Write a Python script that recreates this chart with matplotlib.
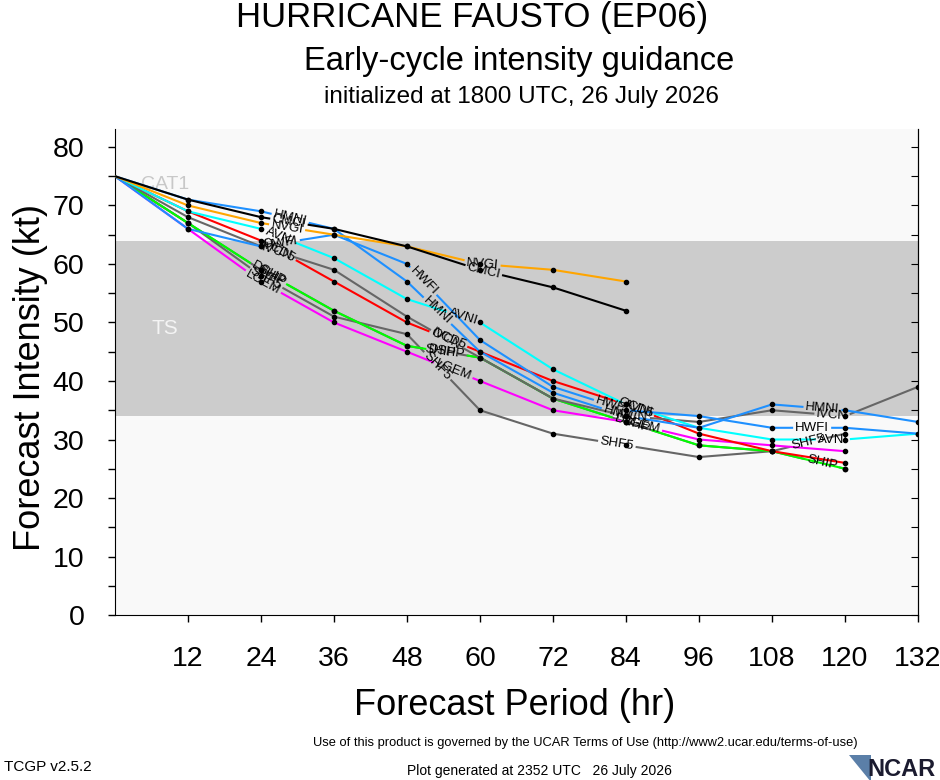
import numpy as np
import matplotlib
matplotlib.use("Agg")
import matplotlib.pyplot as plt
from matplotlib.patches import Polygon

plt.rcParams['font.family'] = ['Liberation Sans', 'DejaVu Sans']

# forecast hours (every 12 h)
hours = [0, 12, 24, 36, 48, 60, 72, 84, 96, 108, 120, 132]

# intensities (kt)
cmci = [75, 71, 68, 66, 63, 59, 56, 52]
nvgi = [75, 70, 67, 65, 63, 60, 59, 57]
hmni = [75, 71, 69, 66, 57, 45, 38, 34, 32, 36, 35, 33]
hwfi = [75, 66, 63, 65, 60, 47, 39, 35, 34, 32, 32, 31]
avni = [75, 69, 66, 61, 54, 50, 42, 36, 32, 30, 30, 31]
ivcn = [75, 68, 63, 59, 51, 44, 37, 34, 33, 35, 34, 39]
ocd5 = [75, 69, 64, 57, 50, 45, 40, 36, 31, 28, 26]
dshp = [75, 67, 59, 52, 46, 44, 37, 33, 29, 28, 25]
ship = [75, 67, 59, 52, 46, 44, 37, 33, 29, 28, 25]
lgem = [75, 66, 57, 50, 45, 40, 35, 33, 30, 29, 28]
shf5 = [75, 67, 58, 51, 48, 35, 31, 29, 27, 28, 31]

# where the in-line model labels sit (forecast hour of label centre)
lab_cmci = [28.6, 60.6]
lab_nvgi = [28.3, 60.4]
lab_hmni = [28.8, 53.0, 83.0, 116.3]
lab_hwfi = [27.3, 50.7, 81.7, 114.6]
lab_avni = [27.1, 57.2, 86.0, 118.0]
lab_ivcn = [26.6, 54.5, 85.0, 117.9]
lab_ocd5 = [26.8, 54.8, 85.5]
lab_dshp = [25.2, 54.5, 85.0]
lab_ship = [25.8, 53.5, 116.2]
lab_lgem = [24.3, 55.6, 86.6]
lab_shf5 = [24.8, 53.0, 82.5, 114.0]

gray = '#666666'

fig = plt.figure(figsize=(9.4, 7.8), dpi=100)
ax = fig.add_axes([0.1223, 0.2115, 0.8543, 0.6226])
ax.set_xlim(0, 132)
ax.set_ylim(0, 83)
ax.set_facecolor('#f9f9f9')
ax.axhspan(34, 64, color='#cccccc', lw=0, zorder=0)
ax.text(8.2, 73.5, 'CAT1', color='#c8c8c8', fontsize=14, ha='center', va='center')
ax.text(8.2, 49, 'TS', color='#f4f4f4', fontsize=15, ha='center', va='center')

ax.set_xticks(hours[1:])
ax.set_yticks(range(0, 81, 10))
ax.set_yticks(range(5, 81, 10), minor=True)
ax.tick_params(axis='both', which='both', direction='out', length=5, width=1,
               labelsize=20.5, pad=17)
ax.spines['top'].set_visible(False)
rax = ax.secondary_yaxis('right')
rax.set_yticks(range(0, 81, 5))
rax.tick_params(direction='in', length=5, labelright=False)

renderer = fig.canvas.get_renderer()


def draw_model(xs, ys, color, name, at):
    xs = np.asarray(xs, float)
    ys = np.asarray(ys, float)
    pix = ax.transData.transform(np.column_stack([xs, ys]))
    seg = np.hypot(*np.diff(pix, axis=0).T)
    cum = np.concatenate([[0.0], np.cumsum(seg)])
    cuts = []
    for h in at:
        i = min(np.searchsorted(xs, h, side='right') - 1, len(xs) - 2)
        f = (h - xs[i]) / (xs[i + 1] - xs[i])
        p = pix[i] + f * (pix[i + 1] - pix[i])
        d = pix[i + 1] - pix[i]
        ang = np.degrees(np.arctan2(d[1], d[0]))
        xd, yd = ax.transData.inverted().transform(p)
        t = ax.text(xd, yd, name, fontsize=9.5, ha='center', va='center',
                    rotation_mode='anchor', zorder=6)
        w = t.get_window_extent(renderer).width
        t.set_rotation(ang)
        s = cum[i] + f * seg[i]
        cuts.append((s - w / 2 - 2, s + w / 2 + 2))
    # break the line where the labels sit
    keep = [(0.0, cum[-1])]
    for a, b in cuts:
        new = []
        for lo, hi in keep:
            if b <= lo or a >= hi:
                new.append((lo, hi))
                continue
            if a > lo:
                new.append((lo, a))
            if b < hi:
                new.append((b, hi))
        keep = new
    for lo, hi in keep:
        ss = np.concatenate([[lo], cum[(cum > lo) & (cum < hi)], [hi]])
        px = np.interp(ss, cum, pix[:, 0])
        py = np.interp(ss, cum, pix[:, 1])
        dd = ax.transData.inverted().transform(np.column_stack([px, py]))
        ax.plot(dd[:, 0], dd[:, 1], color=color, lw=1.5,
                solid_capstyle='butt', zorder=3)
    ax.plot(xs[1:], ys[1:], 'o', ms=3, color='k', zorder=4)


draw_model(hours[:len(ship)], ship, gray, 'SHIP', lab_ship)
draw_model(hours[:len(shf5)], shf5, gray, 'SHF5', lab_shf5)
draw_model(hours[:len(lgem)], lgem, '#ff00ff', 'LGEM', lab_lgem)
draw_model(hours[:len(dshp)], dshp, '#00ff00', 'DSHP', lab_dshp)
draw_model(hours[:len(ocd5)], ocd5, '#ff0000', 'OCD5', lab_ocd5)
draw_model(hours[:len(ivcn)], ivcn, gray, 'IVCN', lab_ivcn)
draw_model(hours[:len(avni)], avni, '#00ffff', 'AVNI', lab_avni)
draw_model(hours[:len(hwfi)], hwfi, '#1e90ff', 'HWFI', lab_hwfi)
draw_model(hours[:len(hmni)], hmni, '#1e90ff', 'HMNI', lab_hmni)
draw_model(hours[:len(nvgi)], nvgi, '#ffa500', 'NVGI', lab_nvgi)
draw_model(hours[:len(cmci)], cmci, 'black', 'CMCI', lab_cmci)

# titles and axis names
fig.text(0.502, 0.977, 'HURRICANE FAUSTO (EP06)', ha='center', va='center', fontsize=25)
fig.text(0.552, 0.921, 'Early-cycle intensity guidance', ha='center', va='center', fontsize=23.5)
fig.text(0.555, 0.876, 'initialized at 1800 UTC, 26 July 2026', ha='center', va='center', fontsize=17.5)
fig.text(0.032, 0.516, 'Forecast Intensity (kt)', rotation=90, ha='center', va='center', fontsize=26)
fig.text(0.548, 0.096, 'Forecast Period (hr)', ha='center', va='center', fontsize=26)

# footer
fig.text(0.623, 0.047, 'Use of this product is governed by the UCAR Terms of Use '
         '(http://www2.ucar.edu/terms-of-use)', ha='center', va='center', fontsize=9.3)
fig.text(0.004, 0.017, 'TCGP v2.5.2', ha='left', va='center', fontsize=11)
fig.text(0.574, 0.012, 'Plot generated at 2352 UTC   26 July 2026', ha='center',
         va='center', fontsize=10)
fig.text(0.995, 0.013, 'NCAR', ha='right', va='center', fontsize=17, weight='bold',
         color='#1b1b2f')
fig.patches.append(Polygon([[0.903, 0.032], [0.927, 0.032], [0.927, -0.003]],
                           closed=True, transform=fig.transFigure,
                           facecolor='#5b7fa8', edgecolor='none'))

fig.savefig('out.png', dpi=100)
